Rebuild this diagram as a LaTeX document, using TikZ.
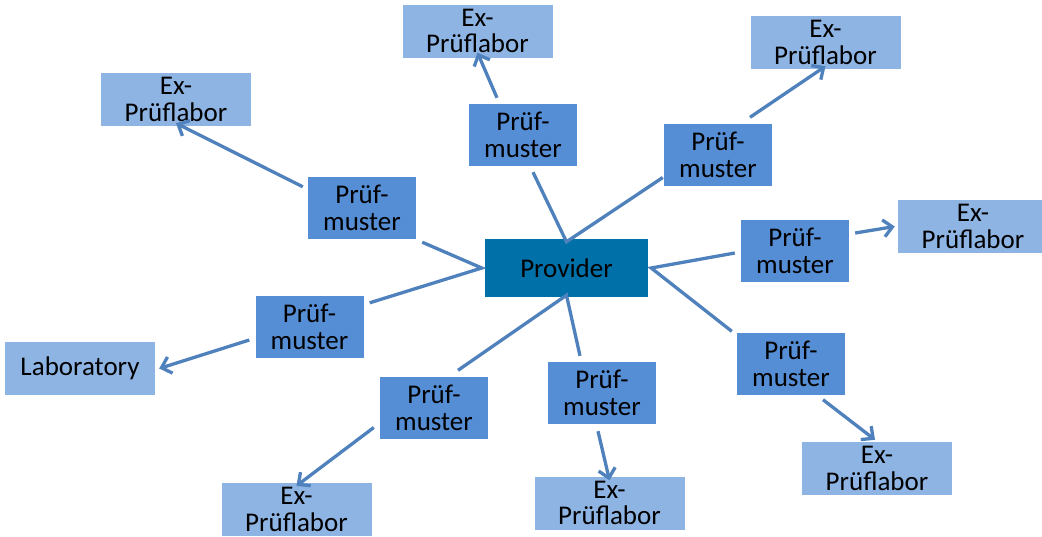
\documentclass[tikz,border=0pt]{standalone}
\usepackage{fontspec}
\setmainfont{Carlito}
\usetikzlibrary{arrows.meta}
\definecolor{provc}{RGB}{0,112,168}
\definecolor{prfc}{RGB}{85,142,213}
\definecolor{labc}{RGB}{142,180,227}
\definecolor{linec}{RGB}{79,129,189}
\begin{document}
\begin{tikzpicture}[x=1pt,y=-1pt,
 box/.style={rectangle, inner sep=0pt, align=center, font=\fontsize{27}{26.7}\selectfont, text=black},
 provbox/.style={box, fill=provc, minimum width=163pt, minimum height=58pt},
 pbox/.style={box, fill=prfc, minimum width=108pt, minimum height=62pt},
 lbox/.style={box, fill=labc, minimum width=150pt, minimum height=53pt},
 link/.style={draw=linec, line width=3.3pt},
 arr/.style={link, -{Straight Barb[length=9pt,width=17pt]}}]
\useasboundingbox (0,0) rectangle (1042,536);
\fill[white] (0,0) rectangle (1042,536);
% nodes
\node[provbox] (prov) at (566.5,268) {Provider};
\node[pbox] (p1) at (362,208) {Prüf-\\muster};
\node[pbox] (p2) at (523,135) {Prüf-\\muster};
\node[pbox] (p3) at (718,154.5) {Prüf-\\muster};
\node[pbox] (p4) at (795,251) {Prüf-\\muster};
\node[pbox] (p5) at (791,363.5) {Prüf-\\muster};
\node[pbox] (p6) at (602,393) {Prüf-\\muster};
\node[pbox] (p7) at (434,407.5) {Prüf-\\muster};
\node[pbox] (p8) at (309.5,327) {Prüf-\\muster};
\node[lbox] (l1) at (176,99.5) {Ex-\\Prüflabor};
\node[lbox] (l2) at (477.5,31) {Ex-\\Prüflabor};
\node[lbox] (l3) at (825.5,42.5) {Ex-\\Prüflabor};
\node[lbox] (l4) at (973,226.5) {Ex-\\Prüflabor};
\node[lbox] (l5) at (877,468.5) {Ex-\\Prüflabor};
\node[lbox] (l6) at (609.5,503) {Ex-\\Prüflabor};
\node[lbox] (l7) at (296.5,509.5) {Ex-\\Prüflabor};
\node[lbox] (lab) at (80,368.5) {Laboratory};
% provider links
\draw[link] ([shift={(6,3)}]p1.south east) -- ([xshift=-3]prov.west) -- ([shift={(6,7)}]p8.north east);
\draw[link] ([shift={(10,6)}]p2.south) -- ([yshift=-3]prov.north) -- ([shift={(-1,23)}]p3.west);
\draw[link] ([shift={(-6,2)}]p4.west) -- ([xshift=3]prov.east) -- ([shift={(-5,-1)}]p5.north west);
\draw[link] ([shift={(24,-6)}]p7.north) -- ([yshift=2]prov.south) -- ([shift={(-22,-6)}]p6.north);
% arrows to labs
\draw[arr] ([shift={(-5,10)}]p1.north west) -- ([yshift=3]l1.south);
\draw[arr] ([shift={(-26,-6)}]p2.north) -- ([yshift=5]l2.south);
\draw[arr] ([shift={(32,-6)}]p3.north) -- ([yshift=3]l3.south);
\draw[arr] ([shift={(6,-18)}]p4.east) -- ([xshift=-3]l4.west);
\draw[arr] ([shift={(32,5)}]p5.south) -- ([shift={(-2,-2)}]l5.north);
\draw[arr] ([shift={(-4,7)}]p6.south) -- ([yshift=-4]l6.north);
\draw[arr] ([shift={(-6,20)}]p7.west) -- ([yshift=-3]l7.north);
\draw[arr] ([shift={(-6,13)}]p8.west) -- ([xshift=4]lab.east);
\end{tikzpicture}
\end{document}
